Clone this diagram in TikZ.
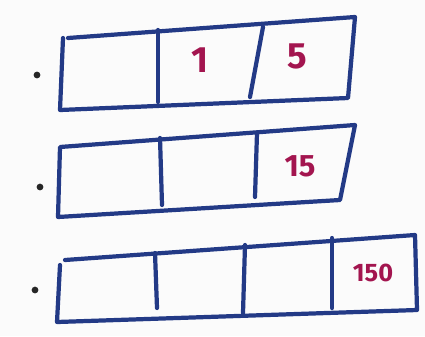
\documentclass[tikz,border=0pt]{standalone}
\usepackage{fontspec}
\setsansfont{Fira Sans}
\definecolor{kalem}{HTML}{233A86}
\definecolor{murekkep}{HTML}{A3154F}
\tikzset{
  kutu/.style={line width=3pt, kalem, line join=round, line cap=round},
  sayi/.style={murekkep, font=\sffamily\bfseries},
  nokta/.style={fill=black!85, draw=none}
}
\begin{document}
\begin{tikzpicture}[x=0.025cm, y=-0.025cm]
  \useasboundingbox[fill=white!97!gray] (0,0) rectangle (425,336);

  % Birinci satır
  \coordinate (A1) at (63,38);
  \coordinate (B1) at (355,17);
  \coordinate (C1) at (348,98);
  \coordinate (D1) at (60,110);
  \draw[kutu] (68,38) -- (B1) -- (C1) -- (D1) -- (A1);
  \draw[kutu] (158,30) -- (158,102);
  \draw[kutu] (263,27) -- (250,97);
  \fill[nokta] (37,75) circle (2.4pt);
  \node[sayi, font=\sffamily\bfseries\fontsize{26}{26}\selectfont] (bir) at (200,60) {1};
  \node[sayi, font=\sffamily\bfseries\fontsize{26}{26}\selectfont] (bes) at (297,56) {5};

  % İkinci satır
  \coordinate (A2) at (60,147);
  \coordinate (B2) at (355,125);
  \coordinate (C2) at (340,200);
  \coordinate (D2) at (58,217);
  \draw[kutu] (A2) -- (B2) -- (C2) -- (D2) -- cycle;
  \draw[kutu] (160,138) -- (162,205);
  \draw[kutu] (257,133) -- (255,197);
  \fill[nokta] (40,187) circle (2.4pt);
  \node[sayi, font=\sffamily\bfseries\fontsize{22}{22}\selectfont] (onbes) at (300,166) {15};

  % Üçüncü satır
  \coordinate (A3) at (60,265);
  \coordinate (B3) at (415,235);
  \coordinate (C3) at (417,310);
  \coordinate (D3) at (57,322);
  \draw[kutu] (65,260) -- (B3) -- (C3) -- (D3) -- (A3);
  \draw[kutu] (155,253) -- (157,308);
  \draw[kutu] (245,245) -- (243,313);
  \draw[kutu] (332,238) -- (332,308);
  \fill[nokta] (35,290) circle (2.4pt);
  \node[sayi, font=\sffamily\bfseries\fontsize{18}{18}\selectfont] (yuzelli) at (373,273) {150};
\end{tikzpicture}
\end{document}
